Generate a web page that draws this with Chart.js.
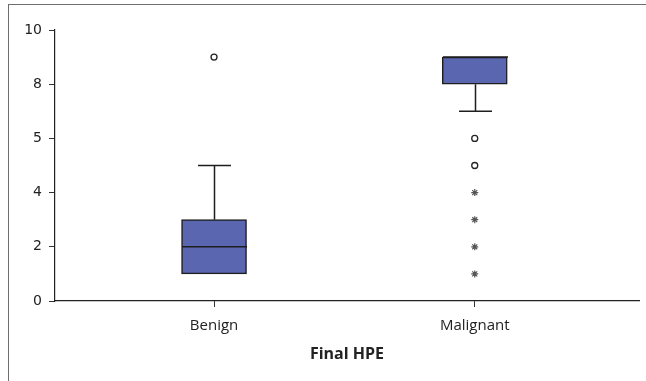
<!DOCTYPE html>
<html><head><meta charset="utf-8">
<script src="https://cdn.jsdelivr.net/npm/chart.js@4/dist/chart.umd.min.js"></script>
<style>
html,body{margin:0;padding:0;background:#fff;width:646px;height:381px;overflow:hidden;}
#frame{position:absolute;left:8px;top:4px;width:700px;height:400px;border-left:1.5px solid #6e6e6e;border-top:1.5px solid #6e6e6e;box-sizing:border-box;}
#wrap{position:absolute;left:0;top:0;width:646px;height:381px;}
</style></head>
<body>
<div id="frame"></div>
<div id="wrap"><canvas id="c" width="646" height="381"></canvas></div>
<script>
// Categories (x positions 0 and 1)
const categories = ["Benign", "Malignant"];
// Y tick labels as printed on the axis (evenly spaced positions 0,2,4,6,8,10)
const yTickLabels = ["0", "2", "4", "5", "8", "10"];
// Box statistics (in axis position units)
const q1 = [1, 8];
const median = [2, 9];
const q3 = [3, 9];
const whiskerLow = [1, 7];
const whiskerHigh = [5, 9];
// Outliers: circles and extremes (asterisks), [categoryIndex, value]
const circleOutliers = [[0, 9], [1, 6], [1, 5]];
const extremeOutliers = [[1, 4], [1, 3], [1, 2], [1, 1]];

const BOX_HALF = 32.5, CAP_HALF = 16.5;

const boxPlugin = {
  id: 'boxParts',
  afterDatasetsDraw(chart) {
    const ctx = chart.ctx, xs = chart.scales.x, ys = chart.scales.y;
    ctx.save();
    ctx.strokeStyle = '#1e1e1e';
    ctx.lineWidth = 1.5;
    for (let i = 0; i < categories.length; i++) {
      const cx = Math.round(xs.getPixelForValue(i)) + 0.5;
      const yl = ys.getPixelForValue(whiskerLow[i]);
      const yh = ys.getPixelForValue(whiskerHigh[i]);
      const y1 = ys.getPixelForValue(q1[i]);
      const y3 = ys.getPixelForValue(q3[i]);
      const ym = ys.getPixelForValue(median[i]);
      ctx.beginPath();
      if (whiskerHigh[i] > q3[i]) {
        ctx.moveTo(cx, y3); ctx.lineTo(cx, yh);
        ctx.moveTo(cx - CAP_HALF, yh); ctx.lineTo(cx + CAP_HALF, yh);
      }
      if (whiskerLow[i] < q1[i]) {
        ctx.moveTo(cx, y1); ctx.lineTo(cx, yl);
        ctx.moveTo(cx - CAP_HALF, yl); ctx.lineTo(cx + CAP_HALF, yl);
      }
      ctx.moveTo(cx - BOX_HALF, ym); ctx.lineTo(cx + BOX_HALF, ym);
      ctx.stroke();
    }
    ctx.restore();
  }
};

new Chart(document.getElementById('c'), {
  data: {
    datasets: [
      {
        type: 'bar',
        data: categories.map((c, i) => ({x: i, y: [q1[i], q3[i]]})),
        backgroundColor: '#5a66b0',
        borderColor: '#1e1e1e',
        borderWidth: 1.5,
        borderSkipped: false,
        barThickness: 65,
        order: 2
      },
      {
        type: 'scatter',
        data: circleOutliers.map(p => ({x: p[0], y: p[1]})),
        pointStyle: 'circle',
        pointRadius: 3,
        pointBackgroundColor: '#fff',
        pointBorderColor: '#222',
        pointBorderWidth: 1.3,
        order: 1
      },
      {
        type: 'scatter',
        data: extremeOutliers.map(p => ({x: p[0], y: p[1]})),
        pointStyle: 'star',
        pointRadius: 3.5,
        pointBorderColor: '#555',
        pointBorderWidth: 1.2,
        order: 1
      }
    ]
  },
  options: {
    responsive: false,
    animation: false,
    layout: {padding: {left: 0, top: 30, right: 7, bottom: 0}},
    plugins: {legend: {display: false}, tooltip: {enabled: false}},
    scales: {
      x: {
        type: 'linear',
        offset: false,
        min: -0.61, max: 1.63,
        afterBuildTicks: s => { s.ticks = categories.map((c, i) => ({value: i})); },
        afterFit: s => { s.height = 80; },
        ticks: {
          callback: (v) => categories[v] !== undefined ? categories[v] : '',
          color: '#222',
          font: {family: 'Open Sans', size: 15},
          padding: 10,
          maxRotation: 0
        },
        grid: {display: true, drawOnChartArea: false, drawTicks: true, tickLength: 6, tickColor: '#333', offset: false},
        border: {color: '#222', width: 1.2},
        title: {display: true, text: 'Final HPE', color: '#222', font: {family: 'Open Sans', size: 16, weight: 'bold'}, padding: {top: 6, bottom: 17}}
      },
      y: {
        type: 'linear',
        min: 0, max: 10,
        afterBuildTicks: s => { s.ticks = [0, 2, 4, 6, 8, 10].map(v => ({value: v})); },
        afterFit: s => { s.width = 55; },
        ticks: {
          callback: (v) => yTickLabels[v / 2],
          color: '#222',
          font: {family: 'DejaVu Sans', size: 14},
          padding: 7
        },
        grid: {display: true, drawOnChartArea: false, drawTicks: true, tickLength: 6, tickColor: '#333'},
        border: {color: '#222', width: 1.2}
      }
    }
  },
  plugins: [boxPlugin]
});
</script>
</body></html>
